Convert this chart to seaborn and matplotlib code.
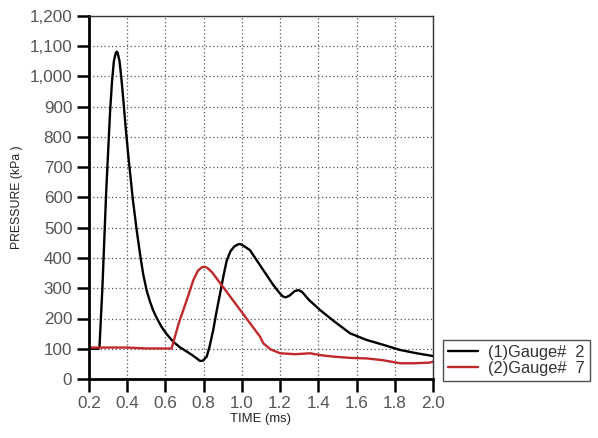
import matplotlib
matplotlib.use("Agg")
import matplotlib.pyplot as plt
import seaborn as sns
import pandas as pd
import numpy as np

# Gauge 2 (black)
t_g2 = [0.20, 0.25, 0.255, 0.27, 0.29, 0.31, 0.32, 0.33, 0.34, 0.345, 0.35, 0.36, 0.37, 0.38,
        0.392, 0.406, 0.43, 0.45, 0.47, 0.484, 0.502, 0.519, 0.535, 0.554, 0.58, 0.607, 0.641,
        0.675, 0.711, 0.74, 0.764, 0.78, 0.795, 0.816, 0.83, 0.85, 0.868, 0.886, 0.905, 0.92,
        0.94, 0.96, 0.98, 0.99, 1.005, 1.042, 1.112, 1.164, 1.20, 1.217, 1.23, 1.25, 1.275,
        1.295, 1.315, 1.35, 1.409, 1.48, 1.566, 1.653, 1.74, 1.828, 1.915, 2.0]
p_g2 = [100, 100, 108, 300, 620, 880, 980, 1050, 1078, 1082, 1078, 1050, 990, 920,
        830, 736, 590, 490, 400, 345, 292, 256, 228, 202, 172, 148, 123,
        105, 91, 79, 68, 60, 60, 74, 105, 162, 225, 283, 345, 390,
        422, 438, 445, 446, 442, 426, 360, 311, 282, 272, 270, 276, 290,
        294, 288, 262, 228, 192, 151, 129, 113, 96, 85, 76]

# Gauge 7 (red)
t_g7 = [0.20, 0.40, 0.50, 0.60, 0.632, 0.67, 0.711, 0.746, 0.77, 0.79, 0.805, 0.82, 0.845,
        0.886, 0.93, 0.99, 1.043, 1.095, 1.112, 1.15, 1.20, 1.28, 1.357, 1.42, 1.48, 1.56,
        1.653, 1.74, 1.828, 1.90, 1.98, 2.0]
p_g7 = [104, 104, 101, 101, 101, 185, 260, 327, 358, 369, 371, 367, 352,
        317, 280, 229, 184, 140, 118, 98, 85, 82, 85, 78, 74, 70,
        68, 62, 52, 52, 54, 57]

labels = ["(1)Gauge#  2", "(2)Gauge#  7"]
colors = ["#000000", "#c0282b"]
x_ticks = [0.2, 0.4, 0.6, 0.8, 1.0, 1.2, 1.4, 1.6, 1.8, 2.0]
y_ticks = [0, 100, 200, 300, 400, 500, 600, 700, 800, 900, 1000, 1100, 1200]
y_ticklabels = ["0", "100", "200", "300", "400", "500", "600", "700", "800", "900",
                "1,000", "1,100", "1,200"]

df = pd.concat([
    pd.DataFrame({"t": t_g2, "p": p_g2, "s": labels[0]}),
    pd.DataFrame({"t": t_g7, "p": p_g7, "s": labels[1]}),
])

sns.set_theme(style="white")
plt.rcParams["font.family"] = ["Liberation Sans", "DejaVu Sans"]

fig = plt.figure(figsize=(5.98, 4.38), dpi=100)
ax = fig.add_axes([89/598, 1-379/438, (433-89)/598, (379-16)/438])

sns.lineplot(data=df, x="t", y="p", hue="s", palette=colors, ax=ax,
             linewidth=1.7, sort=False, estimator=None)

ax.set_xlim(0.2, 2.0)
ax.set_ylim(0, 1200)
ax.set_xticks(x_ticks)
ax.set_xticklabels([f"{v:.1f}" for v in x_ticks])
ax.set_yticks(y_ticks)
ax.set_yticklabels(y_ticklabels)
ax.grid(True, linestyle=(0, (1, 2)), color="#555555", linewidth=0.9)
ax.tick_params(axis="both", which="major", direction="out", length=9, width=1.8,
               color="black", labelsize=12.3, labelcolor="#555555", pad=3,
               left=True, bottom=True)
for side in ["left", "bottom"]:
    ax.spines[side].set_linewidth(2)
    ax.spines[side].set_color("black")
for side in ["top", "right"]:
    ax.spines[side].set_linewidth(1)
    ax.spines[side].set_color("#333333")

ax.set_xlabel("TIME (ms)", fontsize=9.4, color="#222222", labelpad=2)
ax.set_ylabel("PRESSURE (kPa )", fontsize=8.8, color="#222222", labelpad=5)

handles, lbls = ax.get_legend_handles_labels()
ax.legend(handles, lbls, loc="upper left", bbox_to_anchor=(443/598, 1-340/438),
          bbox_transform=fig.transFigure, frameon=True, fancybox=False,
          edgecolor="#222222", fontsize=11.8, handlelength=1.85, borderpad=0.3,
          labelspacing=0.05, handletextpad=0.6, borderaxespad=0)
leg = ax.get_legend()
leg.get_frame().set_linewidth(1)
for txt in leg.get_texts():
    txt.set_color("#333333")

fig.savefig("out.png", dpi=100)
